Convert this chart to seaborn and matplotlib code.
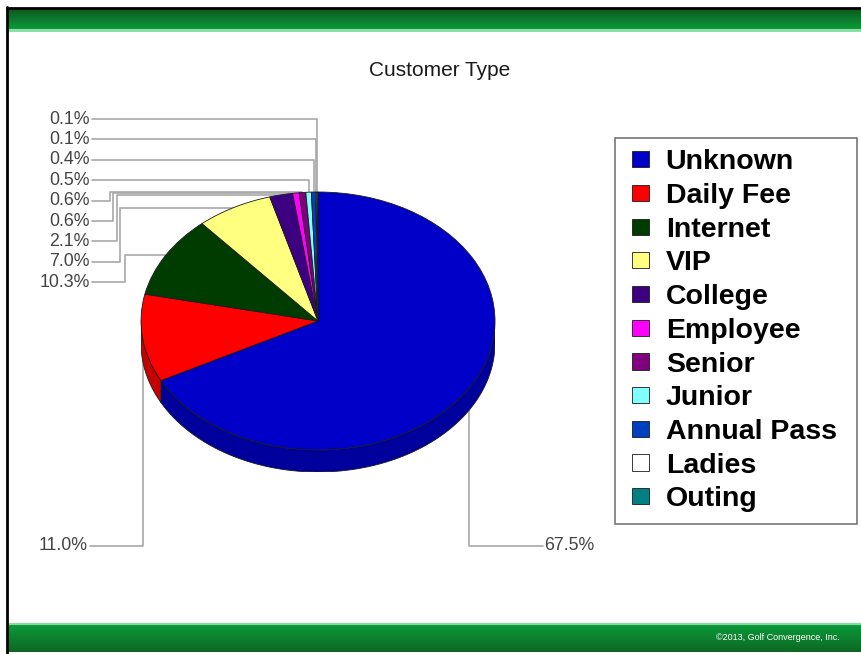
import numpy as np
import matplotlib
matplotlib.use("Agg")
import matplotlib.pyplot as plt
import seaborn as sns
from matplotlib.patches import Polygon, Rectangle
from matplotlib.legend_handler import HandlerPatch
from matplotlib.colors import to_rgb

# ---------------- data ----------------
categories = ["Unknown", "Daily Fee", "Internet", "VIP", "College", "Employee",
              "Senior", "Junior", "Annual Pass", "Ladies", "Outing"]
shares = [67.5, 11.0, 10.3, 7.0, 2.1, 0.6, 0.6, 0.5, 0.4, 0.1, 0.1]
value_labels = ["67.5%", "11.0%", "10.3%", "7.0%", "2.1%", "0.6%", "0.6%",
                "0.5%", "0.4%", "0.1%", "0.1%"]
colors = ["#0000c8", "#ff0000", "#003c00", "#ffff80", "#3c0080", "#ff00ff",
          "#800080", "#80ffff", "#0040c0", "#ffffff", "#008080"]
title = "Customer Type"
footer = "\u00a92013, Golf Convergence, Inc."

# ---------------- style ----------------
sns.set_style("white")
plt.rcParams["font.family"] = ["Liberation Sans", "DejaVu Sans"]

W, H = 862, 654
fig = plt.figure(figsize=(W / 100, H / 100), dpi=100)
bg = fig.add_axes([0, 0, 1, 1])
bg.set_xlim(0, W)
bg.set_ylim(H, 0)
bg.axis("off")


def gradient(x0, x1, y0, y1, c_top, c_bot):
    n = 64
    a, b = np.array(to_rgb(c_top)), np.array(to_rgb(c_bot))
    f = np.linspace(0, 1, n)[:, None]
    img = (a * (1 - f) + b * f)[:, None, :]
    bg.imshow(img, extent=(x0, x1, y1, y0), origin="upper", aspect="auto",
              interpolation="bilinear", zorder=1)


# green bars
gradient(8, W, 9, 29, "#0d5a1e", "#0b9a3a")
bg.plot([8, W], [30, 30], color="#86dca0", lw=2, zorder=2)
gradient(8, W, 625, 652, "#0b9a3a", "#0e6622")
bg.plot([8, W], [624, 624], color="#86dca0", lw=1.5, zorder=2)
# frame border
bg.plot([7, 7], [7, 654], color="black", lw=2, zorder=3)
bg.plot([7, W], [8, 8], color="black", lw=2, zorder=3)
bg.set_xlim(0, W)
bg.set_ylim(H, 0)

bg.text(440, 70, title, ha="center", va="center", fontsize=15, color="#1a1a1a")
bg.text(840, 637, footer, ha="right", va="center", fontsize=6.5, color="white")

# ---------------- pie ----------------
cx, cy, rx, ry, depth = 318, 321, 177, 129, 22
d = depth / ry
pie_ax = fig.add_axes([(cx - rx) / W, (H - (cy + ry + depth)) / H,
                       2 * rx / W, (2 * ry + depth) / H])
wedges, _ = pie_ax.pie(shares, colors=colors, startangle=90, counterclock=False,
                       wedgeprops=dict(edgecolor="#1a1a1a", linewidth=0.6))
pie_ax.set_aspect("auto")
pie_ax.set_xlim(-1, 1)
pie_ax.set_ylim(-1 - d, 1)
pie_ax.axis("off")

# 3-D side of the pie (front half)
for w, c in zip(wedges, colors):
    a, b = w.theta1, w.theta2
    sc = tuple(np.array(to_rgb(c)) * 0.78)
    for k in (-1, 0, 1):
        lo, hi = max(a, -180 + 360 * k), min(b, 0 + 360 * k)
        if hi <= lo:
            continue
        t = np.deg2rad(np.linspace(lo, hi, 80))
        top = np.column_stack([np.cos(t), np.sin(t)])
        bot = np.column_stack([np.cos(t), np.sin(t) - d])[::-1]
        pie_ax.add_patch(Polygon(np.vstack([top, bot]), closed=True,
                                 facecolor=sc, edgecolor="#1a1a1a",
                                 linewidth=0.6, zorder=0))

# ---------------- leader lines & labels ----------------
trans = pie_ax.transData + bg.transData.inverted()


def wedge_point(w):
    t = np.deg2rad((w.theta1 + w.theta2) / 2)
    return trans.transform((np.cos(t), np.sin(t)))


lc = "#a8a8a8"
lw = 1.2
tc = "#444444"
fs = 12.8

left_order = [10, 9, 8, 7, 6, 5, 4, 3, 2]
elbows = {6: 110, 5: 113, 4: 117, 3: 120, 2: 125}
for k, i in enumerate(left_order):
    y = 119 + k * 20.4
    px, py = wedge_point(wedges[i])
    if i in elbows:
        ex = elbows[i]
        xs, ys = [92, ex, ex, px], [y, y, py, py]
    else:
        xs, ys = [92, px, px], [y, y, py]
    bg.plot(xs, ys, color=lc, lw=lw, zorder=2)
    bg.text(90, y, value_labels[i], ha="right", va="center", fontsize=fs, color=tc)

# Daily Fee
px, py = wedge_point(wedges[1])
bg.plot([90, px, px], [546, 546, py], color=lc, lw=lw, zorder=2)
bg.text(88, 546, value_labels[1], ha="right", va="center", fontsize=fs, color=tc)
# Unknown
px, py = wedge_point(wedges[0])
bg.plot([px, px, 543], [py, 546, 546], color=lc, lw=lw, zorder=2)
bg.text(544, 546, value_labels[0], ha="left", va="center", fontsize=fs, color=tc)


# ---------------- legend ----------------
def square(legend, orig_handle, xdescent, ydescent, width, height, fontsize):
    s = height
    return Rectangle((-xdescent + width - s, -ydescent), s, s)


leg = fig.legend(wedges, categories, loc="upper left",
                 bbox_to_anchor=(615 / W, 1 - 138 / H - 0.01, 242 / W, 0.01),
                 mode="expand", borderaxespad=0, frameon=True, fancybox=False,
                 prop=dict(weight="bold", size=20.5), labelcolor="black",
                 handler_map={Polygon: HandlerPatch(patch_func=square),
                              type(wedges[0]): HandlerPatch(patch_func=square)},
                 handlelength=0.78, handleheight=0.5, handletextpad=0.6,
                 labelspacing=0.27, borderpad=0.4)
leg.get_frame().set_edgecolor("#555555")
leg.get_frame().set_linewidth(1.2)

fig.savefig("out.png", dpi=100)
